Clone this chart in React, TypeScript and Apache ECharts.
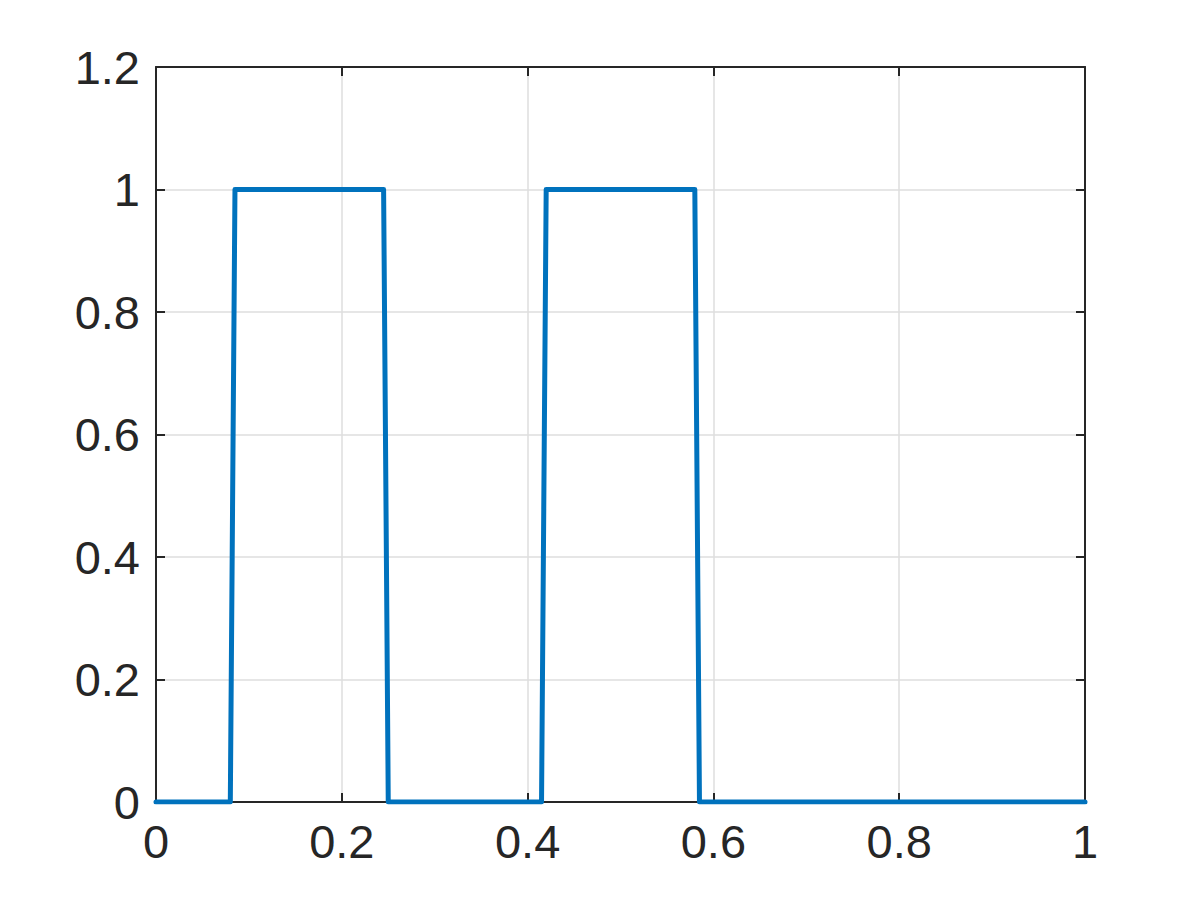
import React, { useEffect, useRef } from "react";
import * as echarts from "echarts";

const xValues = [0, 0.08, 0.085, 0.245, 0.25, 0.415, 0.42, 0.58, 0.585, 1];
const yValues = [0, 0, 1, 1, 0, 0, 1, 1, 0, 0];
const xTicks = [0, 0.2, 0.4, 0.6, 0.8, 1];
const yTicks = [0, 0.2, 0.4, 0.6, 0.8, 1, 1.2];

const textColor = "#262626";
const fontFamily = "'Liberation Sans', Arial, Helvetica, sans-serif";

export default function App() {
  const ref = useRef<HTMLDivElement>(null);
  useEffect(() => {
    document.body.style.margin = "0";
    const chart = echarts.init(ref.current!, null, { renderer: "svg" });
    const fmt = (v: number) => String(parseFloat(v.toFixed(2)));
    const common = {
      axisLine: { show: true, onZero: false, lineStyle: { color: textColor, width: 2 } },
      axisTick: { show: true, inside: true, length: 9, lineStyle: { color: textColor, width: 2 } },
      splitLine: { show: true, lineStyle: { color: "#dedede", width: 1.5 } },
    };
    const xRange = { type: "value", min: xTicks[0], max: xTicks[xTicks.length - 1], interval: 0.2 };
    const yRange = { type: "value", min: yTicks[0], max: yTicks[yTicks.length - 1], interval: 0.2 };
    const label = {
      color: textColor,
      fontSize: 47,
      fontFamily,
      margin: 16,
      formatter: fmt,
    };
    chart.setOption({
      animation: false,
      backgroundColor: "#ffffff",
      grid: { left: 156, top: 67, width: 929, height: 735, containLabel: false },
      xAxis: [
        { ...xRange, position: "bottom", ...common, axisLabel: label },
        { ...xRange, position: "top", ...common, splitLine: { show: false }, axisLabel: { show: false } },
      ],
      yAxis: [
        { ...yRange, position: "left", ...common, axisLabel: label },
        { ...yRange, position: "right", ...common, splitLine: { show: false }, axisLabel: { show: false } },
      ],
      series: [
        {
          type: "line",
          xAxisIndex: 0,
          yAxisIndex: 0,
          data: xValues.map((x, i) => [x, yValues[i]]),
          showSymbol: false,
          symbol: "none",
          lineStyle: { color: "#0072BD", width: 5, join: "round", cap: "round" },
          z: 3,
        },
      ],
    });
    return () => chart.dispose();
  }, []);
  return <div ref={ref} style={{ width: 1200, height: 900 }} />;
}
